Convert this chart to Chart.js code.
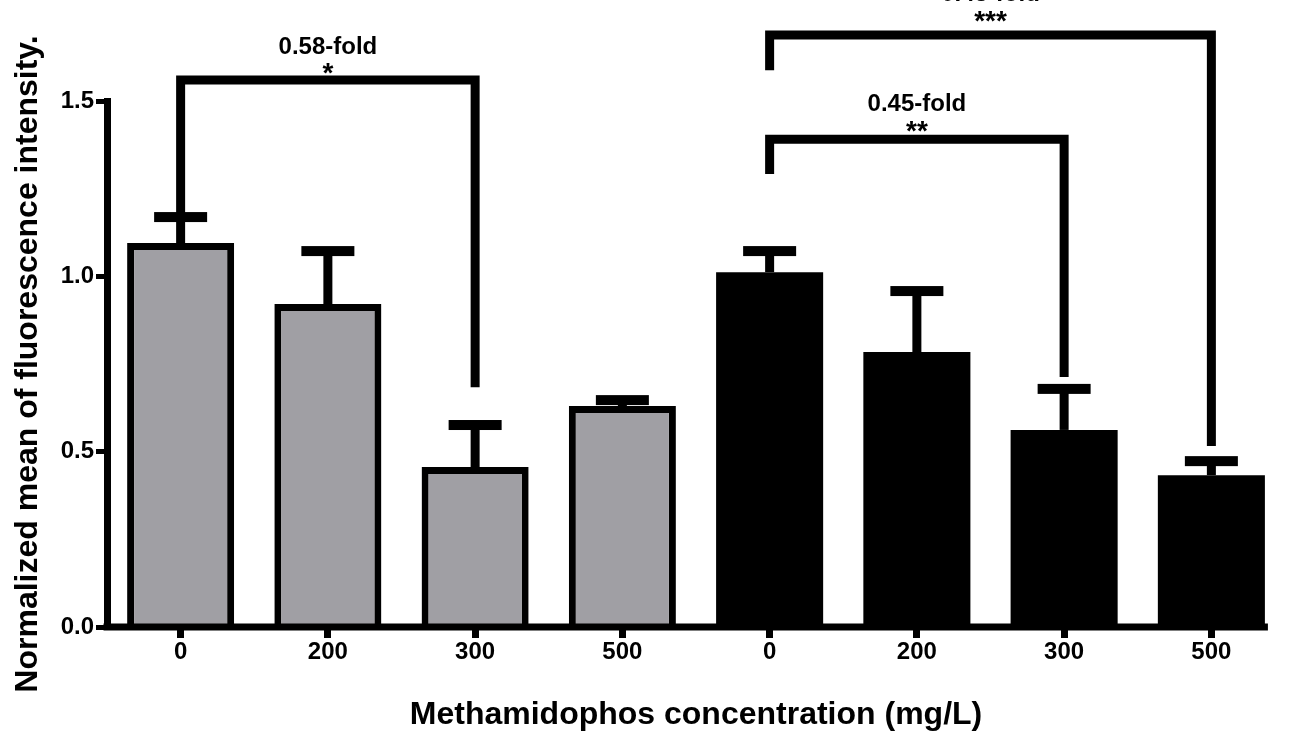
<!DOCTYPE html>
<html>
<head>
<meta charset="utf-8">
<script src="https://cdn.jsdelivr.net/npm/chart.js@4.4.1/dist/chart.umd.min.js"></script>
<style>
  html, body { margin: 0; padding: 0; background: #ffffff; }
  #wrap { width: 1291px; height: 731px; }
</style>
</head>
<body>
<div id="wrap"><canvas id="chart" width="1291" height="731"></canvas></div>
<script>
// Methamidophos concentration groups (mg/L)
const categories = ['0', '200', '300', '500', '0', '200', '300', '500'];
// Normalized mean fluorescence intensity and the top of each error bar
const meanValues  = [1.095, 0.921, 0.456, 0.630, 1.012, 0.784, 0.562, 0.433];
const upperValues = [1.169, 1.072, 0.576, 0.647, 1.072, 0.958, 0.679, 0.473];
const yTicks = [0.0, 0.5, 1.0, 1.5];

// Significance brackets: bar indices, bracket height, leg ends
const bracketFrom = [0, 4, 4];
const bracketTo = [2, 6, 7];
const bracketLevels = [1.560, 1.391, 1.688];
const bracketLeftEnds = [1.180, 1.292, 1.588];
const bracketRightEnds = [0.684, 0.713, 0.516];
const foldLabels = ['0.58-fold', '0.45-fold', '0.43-fold'];
const foldLabelLevels = [1.660, 1.498, 1.810];
const starLabels = ['*', '**', '***'];
const starLevels = [1.592, 1.426, 1.740];

const GRAY = '#a09fa4';
const FONT = "'Liberation Sans', Arial, Helvetica, sans-serif";
const barColors = categories.map((_, i) => (i < 4 ? GRAY : '#000000'));
const barBorders = categories.map((_, i) => (i < 4 ? 7 : 0));

// draw text so that its visible glyph box is centred on y
function drawCentered(ctx, text, x, y) {
  const m = ctx.measureText(text);
  const asc = m.actualBoundingBoxAscent, desc = m.actualBoundingBoxDescent;
  ctx.fillText(text, x, y + (asc - desc) / 2);
}

const annotations = {
  id: 'annotations',
  afterDatasetsDraw(chart) {
    const ctx = chart.ctx;
    const xs = chart.scales.x, ys = chart.scales.y;
    const meta = chart.getDatasetMeta(0);
    ctx.save();
    ctx.fillStyle = '#000';

    // x axis line, ending just past the last bar
    const lastBar = meta.data[meta.data.length - 1];
    const axisY = ys.getPixelForValue(0);
    const axisEnd = lastBar.x + lastBar.width / 2 + 3;
    ctx.fillRect(chart.chartArea.left - 3.5, axisY - 3.5, axisEnd - chart.chartArea.left + 3.5, 7);

    // error bars (mean to upper value)
    meanValues.forEach((m, i) => {
      const x = xs.getPixelForValue(i);
      const yTop = ys.getPixelForValue(upperValues[i]);
      const yBar = ys.getPixelForValue(m);
      ctx.fillRect(x - 4.5, yTop, 9, yBar - yTop);
      ctx.fillRect(x - 26.5, yTop - 5, 53, 10);
    });

    // significance brackets
    ctx.strokeStyle = '#000';
    ctx.lineWidth = 9;
    ctx.lineJoin = 'miter';
    ctx.lineCap = 'butt';
    bracketFrom.forEach((from, k) => {
      const xL = xs.getPixelForValue(from);
      const xR = xs.getPixelForValue(bracketTo[k]);
      const yLev = ys.getPixelForValue(bracketLevels[k]);
      ctx.beginPath();
      ctx.moveTo(xL, ys.getPixelForValue(bracketLeftEnds[k]));
      ctx.lineTo(xL, yLev);
      ctx.lineTo(xR, yLev);
      ctx.lineTo(xR, ys.getPixelForValue(bracketRightEnds[k]));
      ctx.stroke();

      const xc = (xL + xR) / 2;
      ctx.textAlign = 'center';
      ctx.textBaseline = 'alphabetic';
      ctx.font = 'bold 24px ' + FONT;
      drawCentered(ctx, foldLabels[k], xc, ys.getPixelForValue(foldLabelLevels[k]));
      ctx.font = 'bold 28px ' + FONT;
      drawCentered(ctx, starLabels[k], xc, ys.getPixelForValue(starLevels[k]));
    });
    ctx.restore();
  }
};

new Chart(document.getElementById('chart'), {
  type: 'bar',
  data: {
    labels: categories,
    datasets: [{
      data: meanValues,
      backgroundColor: barColors,
      borderColor: '#000000',
      borderWidth: barBorders,
      borderSkipped: 'start',
      barPercentage: 0.727,
      categoryPercentage: 1.0
    }]
  },
  options: {
    responsive: false,
    animation: false,
    devicePixelRatio: 1,
    layout: { padding: { top: 101, right: 6, left: 0, bottom: 0 } },
    plugins: { legend: { display: false }, tooltip: { enabled: false } },
    scales: {
      x: {
        type: 'category',
        offset: true,
        afterFit(scale) { scale.height = 104; },
        grid: {
          offset: false,
          drawOnChartArea: false,
          drawTicks: true,
          tickLength: 11,
          lineWidth: 7,
          color: '#000'
        },
        border: { display: false },
        ticks: {
          color: '#000',
          font: { family: FONT, size: 24, weight: 'bold' },
          padding: 0,
          maxRotation: 0,
          autoSkip: false
        },
        title: {
          display: true,
          text: 'Methamidophos concentration (mg/L)',
          color: '#000',
          font: { family: FONT, size: 32, weight: 'bold' },
          padding: { top: 0, bottom: -3 }
        }
      },
      y: {
        min: 0,
        max: 1.5,
        afterFit(scale) { scale.width = 107; },
        afterBuildTicks(scale) { scale.ticks = yTicks.map(v => ({ value: v })); },
        grid: {
          drawOnChartArea: false,
          drawTicks: true,
          tickLength: 11,
          lineWidth: 5,
          color: '#000'
        },
        border: { display: true, width: 7, color: '#000' },
        ticks: {
          color: '#000',
          font: { family: FONT, size: 24, weight: 'bold' },
          padding: 2,
          callback: v => Number(v).toFixed(1)
        },
        title: {
          display: true,
          text: 'Normalized mean of fluorescence intensity.',
          color: '#000',
          font: { family: FONT, size: 32, weight: 'bold' },
          padding: { top: 9, bottom: 0 }
        }
      }
    }
  },
  plugins: [annotations]
});
</script>
</body>
</html>
